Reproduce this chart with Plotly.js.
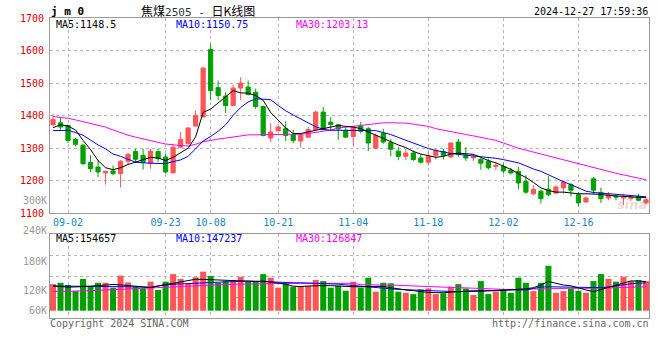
<!DOCTYPE html>
<html>
<head>
<meta charset="utf-8">
<script src="https://cdn.plot.ly/plotly-3.0.1.min.js"></script>
<style>html,body{margin:0;padding:0;background:#fff;}#chart{width:660px;height:360px;}</style>
</head>
<body>
<div id="chart"></div>
<script>
// ---- data ----
const dates = ['08-29','08-30',
'09-02','09-03','09-04','09-05','09-06','09-09','09-10','09-11','09-12','09-13','09-18','09-19','09-20','09-23','09-24','09-25','09-26','09-27','09-30',
'10-08','10-09','10-10','10-11','10-14','10-15','10-16','10-17','10-18','10-21','10-22','10-23','10-24','10-25','10-28','10-29','10-30','10-31',
'11-01','11-04','11-05','11-06','11-07','11-08','11-11','11-12','11-13','11-14','11-15','11-18','11-19','11-20','11-21','11-22','11-25','11-26','11-27','11-28','11-29',
'12-02','12-03','12-04','12-05','12-06','12-09','12-10','12-11','12-12','12-13','12-16','12-17','12-18','12-19','12-20','12-23','12-24','12-25','12-26','12-27'];

const openP = [1372,1378,1370,1327,1309,1256,1242,1224,1230,1222,
1260,1290,1278,1254,1290,1273,1224,1303,1314,1368,
1396,1603,1486,1460,1431,1485,1488,1472,1428,1331,
1353,1360,1341,1322,1334,1357,1411,1380,1372,1355,
1336,1368,1360,1300,1346,1317,1291,1275,1285,1270,
1257,1278,1290,1273,1319,1278,1270,1266,1260,1244,
1244,1232,1229,1198,1160,1168,1174,1162,1178,1188,
1157,1135,1206,1164,1147,1152,1147,1146,1152,1132];
const highP = [1406,1394,1372,1332,1314,1278,1263,1229,1247,1263,
1285,1298,1298,1298,1298,1283,1314,1350,1365,1416,
1550,1619,1508,1472,1495,1518,1508,1483,1431,1377,
1373,1383,1357,1345,1365,1416,1426,1396,1375,1365,
1365,1380,1365,1345,1360,1329,1303,1298,1293,1283,
1288,1298,1298,1316,1329,1303,1283,1271,1268,1257,
1253,1240,1242,1217,1186,1173,1214,1186,1201,1193,
1165,1152,1211,1179,1165,1158,1160,1156,1160,1150];
const lowP = [1368,1357,1316,1306,1247,1227,1211,1188,1217,1179,
1249,1257,1234,1237,1257,1222,1224,1303,1311,1367,
1394,1447,1447,1408,1431,1447,1462,1421,1336,1319,
1353,1322,1316,1302,1334,1355,1355,1355,1326,1332,
1309,1345,1291,1300,1314,1275,1263,1263,1261,1253,
1247,1265,1265,1270,1273,1261,1261,1234,1234,1232,
1222,1219,1173,1160,1155,1130,1152,1160,1160,1152,
1121,1132,1160,1132,1140,1140,1125,1138,1137,1128];
const closeP = [1388,1365,1324,1312,1253,1237,1227,1229,1222,1260,
1281,1266,1257,1291,1268,1227,1303,1327,1362,1401,
1546,1477,1462,1431,1485,1500,1465,1428,1339,1350,
1365,1339,1324,1341,1357,1411,1357,1373,1359,1334,
1365,1352,1316,1339,1319,1297,1275,1285,1265,1257,
1275,1293,1278,1316,1281,1270,1273,1254,1240,1247,
1230,1224,1193,1165,1173,1145,1157,1181,1196,1171,
1132,1147,1171,1145,1157,1150,1152,1150,1140,1142];

const ma5 = [1363,1372,1368,1356,1324,1296,1262,1240,1234,1240,
1250,1257,1265,1272,1270,1262,1272,1285,1300,1335,
1410,1420,1440,1460,1477,1470,1469,1462,1447,1410,
1385,1362,1345,1345,1350,1355,1358,1365,1370,1367,
1365,1360,1350,1340,1328,1320,1310,1302,1290,1282,
1276,1272,1275,1282,1285,1283,1281,1272,1262,1255,
1245,1235,1222,1210,1195,1178,1170,1165,1165,1162,
1160,1160,1160,1158,1155,1153,1151,1150,1149,1148.5];
const ma10 = [1354,1355,1355,1348,1340,1325,1310,1298,1282,1275,
1265,1257,1255,1253,1253,1253,1258,1264,1275,1300,
1322,1336,1352,1372,1401,1425,1442,1452,1451,1449,
1431,1415,1402,1390,1377,1366,1358,1355,1355,1355,
1355,1355,1355,1354,1348,1342,1333,1324,1316,1306,
1299,1293,1288,1284,1281,1279,1277,1275,1272,1269,
1265,1260,1255,1246,1236,1229,1218,1207,1197,1188,
1178,1168,1164,1162,1160,1158,1156,1154,1152,1150.75];
const ma30 = [1397,1395,1392,1387,1382,1376,1371,1365,1356,1347,
1340,1334,1328,1323,1318,1313,1310,1308,1307,1312,
1320,1325,1328,1331,1334,1338,1341,1341,1341,1341,
1341,1341,1342,1343,1345,1348,1352,1356,1362,1365,
1367,1370,1374,1376,1378,1378,1378,1377,1374,1370,
1367,1360,1355,1350,1346,1342,1338,1334,1329,1324,
1316,1307,1300,1294,1288,1282,1276,1270,1264,1258,
1252,1245,1239,1233,1228,1223,1218,1213,1208,1203.13];

// volume, thousands of lots
const volK = [141,148,136,104,168,127,148,148,122,186,
150,127,118,154,110,154,194,168,145,177,
207,184,148,157,163,180,154,154,194,175,
122,145,127,127,131,163,157,122,132,106,
154,122,175,101,148,145,101,95,88,113,
118,88,92,127,141,118,83,157,88,101,
113,95,175,148,104,148,238,95,104,115,
106,95,157,194,168,154,180,157,163,157];
const volMa5K = [131,126,125,126,127,130,133,136,139,137,
134,130,127,123,130,140,145,151,160,167,
166,164,161,159,157,156,154,155,157,152,
147,141,130,128,131,133,133,133,130,127,
127,127,127,130,129,122,115,110,106,100,
97,96,95,98,101,104,106,105,104,106,
108,110,112,116,122,136,155,145,136,132,
120,110,101,112,125,135,145,158,157,154.657];
const volMa10K = [131,131,131,131,131,131,131,130,129,128,
127,126,125,124,132,138,140,142,143,145,
147,149,151,153,155,156,157,156,154,152,
150,149,148,148,147,146,145,145,141,137,
133,128,125,122,119,116,113,111,109,107,
106,104,103,102,101,101,101,103,106,109,
110,110,110,110,118,125,127,126,124,123,
122,121,120,122,126,132,139,143,146,147.237];
const volMa30K = [102,102,103,104,105,106,108,110,111,113,
115,118,120,123,125,127,129,130,132,133,
135,136,138,139,140,141,142,143,144,145,
145,145,145,145,145,145,145,145,145,145,
145,138,136,136,136,136,134,132,130,128,
127,126,125,124,122,120,118,116,114,113,
113,113,113,113,114,115,116,118,119,119,
119,119,119,120,121,122,123,124,125,126.847];

const tickDates = ['09-02','09-23','10-08','10-21','11-04','11-18','12-02','12-16'];
const priceTicks = [1100,1200,1300,1400,1500,1600,1700];
const volLabels = ['240K','180K','120K','60K'];

// ---- styles ----
const RED = '#ff5555', GREEN = '#00a000';
const MONO = 'DejaVu Sans Mono, monospace';
const GRID = '#b4b4b4', BORDER = '#9a9a9a';
const PLOT_L = 50, PLOT_W = 599, PLOT_T = 18, PLOT_H = 300;
const px = x => (x - PLOT_L) / PLOT_W;
const py = y => (PLOT_T + PLOT_H - y) / PLOT_H;
const volRange = [-38.7, 405];
const volGrid = [1,2,3].map(i => volRange[0] + i*(volRange[1]-volRange[0])/4);

const traces = [
  {type:'candlestick', x:dates, open:openP, high:highP, low:lowP, close:closeP,
   xaxis:'x', yaxis:'y', whiskerwidth:0,
   increasing:{line:{color:RED,width:1}, fillcolor:RED},
   decreasing:{line:{color:GREEN,width:1}, fillcolor:GREEN},
   hoverinfo:'skip', showlegend:false},
  {type:'scatter', mode:'lines', x:dates, y:ma30, xaxis:'x', yaxis:'y', line:{color:'#ff00ff',width:1}, hoverinfo:'skip', showlegend:false},
  {type:'scatter', mode:'lines', x:dates, y:ma10, xaxis:'x', yaxis:'y', line:{color:'#0000ff',width:1}, hoverinfo:'skip', showlegend:false},
  {type:'scatter', mode:'lines', x:dates, y:ma5, xaxis:'x', yaxis:'y', line:{color:'#000000',width:1}, hoverinfo:'skip', showlegend:false},
  {type:'bar', x:dates, y:volK, xaxis:'x2', yaxis:'y2',
   marker:{color:closeP.map((c,i)=> c>=openP[i]?RED:GREEN), line:{width:0}},
   hoverinfo:'skip', showlegend:false},
  {type:'scatter', mode:'lines', x:dates, y:volMa30K, xaxis:'x2', yaxis:'y2', line:{color:'#ff00ff',width:1}, hoverinfo:'skip', showlegend:false},
  {type:'scatter', mode:'lines', x:dates, y:volMa10K, xaxis:'x2', yaxis:'y2', line:{color:'#0000ff',width:1}, hoverinfo:'skip', showlegend:false},
  {type:'scatter', mode:'lines', x:dates, y:volMa5K, xaxis:'x2', yaxis:'y2', line:{color:'#000000',width:1}, hoverinfo:'skip', showlegend:false}
];

const xCommon = {type:'category', categoryorder:'array', categoryarray:dates,
  range:[-0.4, dates.length-0.6], tickmode:'array', tickvals:tickDates, ticktext:tickDates,
  showgrid:true, gridcolor:GRID, griddash:'dot', gridwidth:1,
  showline:true, linecolor:BORDER, linewidth:1, mirror:true, zeroline:false, ticks:'',
  fixedrange:true, rangeslider:{visible:false}};

function ann(text, x, y, color, opts) {
  return Object.assign({text:text, x:x, y:y, xref:'paper', yref:'paper', showarrow:false,
    xanchor:'left', yanchor:'middle', borderpad:0, font:{family:MONO, size:10, color:color}}, opts||{});
}

const annotations = [
  ann('<b>j m 0</b>', px(50), py(11.5), '#000', {font:{family:MONO,size:11,color:'#000'}}),
  ann('焦煤<span style="font-family:DejaVu Sans Mono;color:#333;font-size:11px">2505 - </span>日K线图', px(140), py(10.5), '#000',
      {font:{family:'Noto Sans CJK SC',size:12,color:'#000'}}),
  ann('2024-12-27 17:59:36', px(649), py(12), '#000', {xanchor:'right'}),
  ann('MA5:1148.5', px(55), py(24.2), '#000'),
  ann('MA10:1150.75', px(175), py(24.2), '#0000ff'),
  ann('MA30:1203.13', px(295), py(24.2), '#ff00ff'),
  ann('300K', 0, py(200.6), '#999', {xanchor:'right', xshift:-2}),
  ann(volLabels[0], 0, py(230.7), '#999', {xanchor:'right', xshift:-2}),
  ann(volLabels[1], 0, py(261), '#999', {xanchor:'right', xshift:-2}),
  ann(volLabels[2], 0, py(290.7), '#999', {xanchor:'right', xshift:-2}),
  ann(volLabels[3], 0, py(310), '#999', {xanchor:'right', xshift:-2}),
  ann('MA5:154657', px(55), py(238.5), '#000'),
  ann('MA10:147237', px(175), py(238.5), '#0000ff'),
  ann('MA30:126847', px(295), py(238.5), '#ff00ff'),
  ann('Copyright 2024 SINA.COM', px(49), py(323.5), '#666'),
  ann('http://finance.sina.com.cn', px(650), py(323.5), '#666', {xanchor:'right'}),
  ann('<i><b>sina</b></i>', px(632), py(204), 'rgba(215,140,140,0.35)',
      {xanchor:'center', font:{family:'DejaVu Sans',size:13,color:'rgba(215,140,140,0.35)'}})
];

const layout = {
  width:660, height:360,
  margin:{l:PLOT_L, r:660-PLOT_L-PLOT_W, t:PLOT_T, b:360-PLOT_T-PLOT_H, pad:0},
  paper_bgcolor:'#fff', plot_bgcolor:'#fff',
  showlegend:false, bargap:0.2, boxgap:0.2,
  xaxis: Object.assign({}, xCommon, {anchor:'y', domain:[0,1],
    tickfont:{family:MONO, size:10, color:'#1a82d2'}, ticklabelstandoff:0}),
  yaxis: {domain:[py(213.3), 1], anchor:'x', range:[1100,1700], tickmode:'array', tickvals:priceTicks,
    ticktext:priceTicks.map(String), tickfont:{family:MONO, size:10, color:'#e00000'},
    showgrid:true, gridcolor:GRID, griddash:'dot', gridwidth:1, zeroline:false,
    showline:true, linecolor:BORDER, linewidth:1, mirror:true, ticks:'', ticklabelstandoff:3, fixedrange:true},
  xaxis2: Object.assign({}, xCommon, {anchor:'y2', domain:[0,1], showticklabels:false}),
  yaxis2: {domain:[0, py(234.3)], anchor:'x2', range:volRange, tickmode:'array', tickvals:volGrid,
    showticklabels:false, showgrid:true, gridcolor:GRID, griddash:'dot', gridwidth:1, zeroline:false,
    showline:true, linecolor:BORDER, linewidth:1, mirror:true, ticks:'', fixedrange:true},
  annotations: annotations
};

Plotly.newPlot('chart', traces, layout, {staticPlot:true, displayModeBar:false});
</script>
</body>
</html>
